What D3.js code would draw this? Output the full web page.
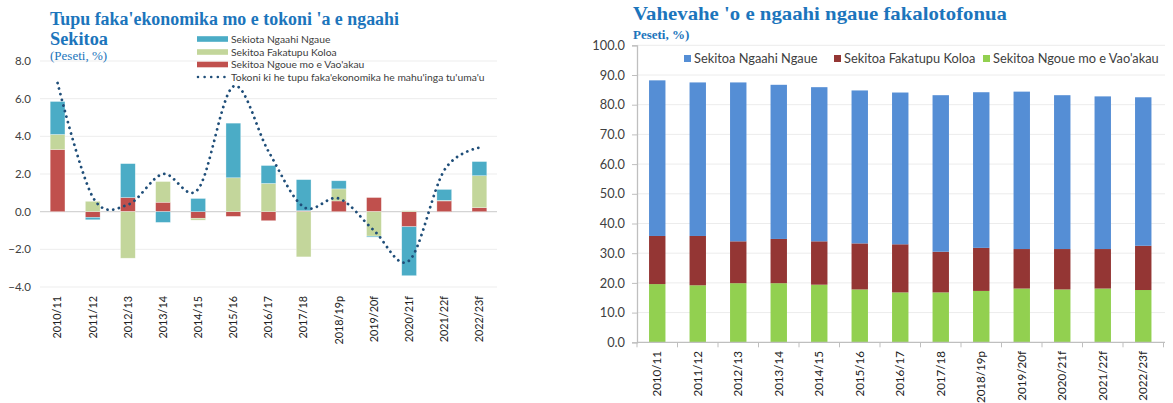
<!DOCTYPE html>
<html><head><meta charset="utf-8">
<script src="https://cdn.jsdelivr.net/npm/d3@7"></script>
<style>
html,body{margin:0;padding:0;background:#fff;}
svg{display:block;}
text{font-family:Lato,"Open Sans",sans-serif;}
text.serif{font-family:"Liberation Serif","Times New Roman",serif;}
</style></head>
<body>
<svg id="c" width="1173" height="403"></svg>
<script>
// ---------- LEFT CHART DATA ----------
const leftCategories = ["2010/11","2011/12","2012/13","2013/14","2014/15","2015/16","2016/17","2017/18","2018/19p","2019/20f","2020/21f","2021/22f","2022/23f"];
const leftNgoue    = [3.3, -0.3, 0.75, 0.5, -0.35, -0.25, -0.48, 0.05, 0.57, 0.75, -0.8, 0.57, 0.21];
const leftFakatupu = [0.8, 0.55, -2.47, 1.1, -0.1, 1.8, 1.5, -2.4, 0.64, -1.3, 0.05, 0.03, 1.7];
const leftNgaue    = [1.75, -0.13, 1.8, -0.57, 0.7, 2.9, 0.95, 1.65, 0.43, -0.05, -2.6, 0.58, 0.75];
const leftGrowth   = [6.83, 0.78, 0.37, 2.0, 1.2, 6.65, 3.2, 0.25, 0.7, -1.0, -2.6, 2.2, 3.4];
const leftTicks    = [-4, -2, 0, 2, 4, 6, 8];
const leftLegend   = ["Sekiota Ngaahi Ngaue","Sekitoa Fakatupu Koloa","Sekitoa Ngoue mo e Vao'akau","Tokoni ki he tupu faka'ekonomika he mahu'inga tu'uma'u"];

// ---------- RIGHT CHART DATA ----------
const rightCategories = ["2010/11","2011/12","2012/13","2013/14","2014/15","2015/16","2016/17","2017/18","2018/19p","2019/20f","2020/21f","2021/22f","2022/23f"];
const rightNgoue    = [19.6, 19.2, 19.9, 19.9, 19.4, 17.8, 16.8, 16.8, 17.3, 18.1, 17.8, 18.1, 17.6];
const rightFakatupu = [16.2, 16.6, 14.1, 14.9, 14.6, 15.5, 16.2, 13.7, 14.5, 13.3, 13.6, 13.3, 14.9];
const rightNgaue    = [52.4, 51.7, 53.5, 51.9, 51.9, 51.5, 51.1, 52.7, 52.4, 53.0, 51.8, 51.4, 50.0];
const rightTicks    = [0,10,20,30,40,50,60,70,80,90,100];
const rightLegend   = ["Sekitoa Ngaahi Ngaue","Sekitoa Fakatupu Koloa","Sekitoa Ngoue mo e Vao'akau"];

const svg = d3.select("#c");
const titleBlue = "#1c75bc";
const textGray = "#404040";

// ================= LEFT =================
(function(){
  const g = svg.append("g");
  const x = d3.scaleBand().domain(leftCategories).range([40,497]).paddingInner(0.58).paddingOuter(0.29);
  const y = d3.scaleLinear().domain([-4,8]).range([287,61]);
  const colors = {ngoue:"#c0504d", fak:"#c3d69b", ngaue:"#4bacc6"};

  g.append("g").selectAll("line").data(leftTicks).join("line")
    .attr("x1",40).attr("x2",497).attr("y1",d=>y(d)).attr("y2",d=>y(d))
    .attr("stroke",d=>d===0?"#d4d4d4":"#ededed").attr("stroke-width",d=>d===0?1.3:1);

  g.append("g").selectAll("text").data(leftTicks).join("text")
    .attr("x",31).attr("y",d=>y(d)).attr("dy","0.35em").attr("text-anchor","end")
    .attr("font-size",11.5).attr("fill",textGray).text(d=>d3.format(".1f")(d));

  const rows = leftCategories.map((c,i)=>({cat:c, ngoue:leftNgoue[i], fak:leftFakatupu[i], ngaue:leftNgaue[i]}));
  const stack = d3.stack().keys(["ngoue","fak","ngaue"]).offset(d3.stackOffsetDiverging)(rows);
  g.append("g").selectAll("g").data(stack).join("g").attr("fill",s=>colors[s.key])
    .selectAll("rect").data(s=>s).join("rect")
    .attr("x",d=>x(d.data.cat)).attr("width",x.bandwidth())
    .attr("y",d=>y(Math.max(d[0],d[1]))).attr("height",d=>Math.abs(y(d[0])-y(d[1])))
    .attr("stroke","#ffffff").attr("stroke-opacity",0.5).attr("stroke-width",0.6);

  const line = d3.line().x((d,i)=>x(leftCategories[i])+x.bandwidth()/2).y(d=>y(d)).curve(d3.curveCardinal.tension(0));
  g.append("path").datum(leftGrowth).attr("d",line).attr("fill","none")
    .attr("stroke","#1f4e79").attr("stroke-width",2.8).attr("stroke-linecap","round")
    .attr("stroke-dasharray","0.01 5.8");

  g.append("g").selectAll("text").data(leftCategories).join("text")
    .attr("transform",d=>`translate(${x(d)+x.bandwidth()/2},296) rotate(-90)`)
    .attr("text-anchor","end").attr("dy","0.35em").attr("font-size",10.8).attr("fill","#202020").text(d=>d);

  g.append("text").attr("class","serif").attr("x",50).attr("y",25).attr("font-weight","bold")
    .attr("font-size",18).attr("fill",titleBlue).attr("textLength",349).attr("lengthAdjust","spacingAndGlyphs")
    .text("Tupu faka'ekonomika mo e tokoni 'a e ngaahi");
  g.append("text").attr("class","serif").attr("x",50).attr("y",45).attr("font-weight","bold")
    .attr("font-size",18).attr("fill",titleBlue).attr("textLength",58).attr("lengthAdjust","spacingAndGlyphs").text("Sekitoa");
  g.append("text").attr("class","serif").attr("x",50).attr("y",60)
    .attr("font-size",13).attr("fill",titleBlue).text("(Peseti, %)");

  const ly = [39,52,64.5,77];
  const lg = g.append("g");
  [colors.ngaue, colors.fak, colors.ngoue].forEach((c,i)=>{
    lg.append("rect").attr("x",197).attr("y",ly[i]-2.8).attr("width",31).attr("height",5.6).attr("fill",c);
  });
  lg.append("line").attr("x1",198).attr("x2",228).attr("y1",ly[3]).attr("y2",ly[3])
    .attr("stroke","#1f4e79").attr("stroke-width",2.6).attr("stroke-linecap","round").attr("stroke-dasharray","0.01 6.6");
  lg.selectAll("text").data(leftLegend).join("text")
    .attr("x",231).attr("y",(d,i)=>ly[i]).attr("dy","0.35em").attr("font-size",10.3).attr("fill",textGray).text(d=>d);
})();

// ================= RIGHT =================
(function(){
  const g = svg.append("g");
  const x = d3.scaleBand().domain(rightCategories).range([637,1163.5]).paddingInner(0.595).paddingOuter(0.2975);
  const y = d3.scaleLinear().domain([0,100]).range([342.3,45.3]);
  const colors = {ngoue:"#92d050", fak:"#943634", ngaue:"#558ed5"};

  g.append("g").selectAll("line").data(rightTicks.filter(d=>d>0)).join("line")
    .attr("x1",637).attr("x2",1165).attr("y1",d=>y(d)).attr("y2",d=>y(d))
    .attr("stroke","#ececec").attr("stroke-width",1);

  const rows = rightCategories.map((c,i)=>({cat:c, ngoue:rightNgoue[i], fak:rightFakatupu[i], ngaue:rightNgaue[i]}));
  const stack = d3.stack().keys(["ngoue","fak","ngaue"])(rows);
  g.append("g").selectAll("g").data(stack).join("g").attr("fill",s=>colors[s.key])
    .selectAll("rect").data(s=>s).join("rect")
    .attr("x",d=>x(d.data.cat)).attr("width",x.bandwidth())
    .attr("y",d=>y(d[1])).attr("height",d=>y(d[0])-y(d[1]));

  const yAxis = d3.axisLeft(y).tickValues(rightTicks).tickSize(5).tickFormat(d3.format(".1f"));
  const ya = g.append("g").attr("transform","translate(637,0)").call(yAxis);
  ya.attr("font-family",null);
  ya.select(".domain").attr("stroke","#bfbfbf").attr("stroke-width",1.3);
  ya.selectAll(".tick line").attr("stroke","#bfbfbf");
  ya.selectAll(".tick text").attr("font-size",12.8).attr("fill",textGray).attr("x",-12);

  const xa = g.append("g").attr("transform","translate(0,342.3)");
  xa.append("line").attr("x1",637).attr("x2",1165).attr("stroke","#bfbfbf").attr("stroke-width",1.3);
  const step = x.step();
  const bounds = d3.range(rightCategories.length+1).map(i=>637+i*step);
  xa.selectAll(".tk").data(bounds).join("line").attr("class","tk")
    .attr("x1",d=>d).attr("x2",d=>d).attr("y1",0).attr("y2",5).attr("stroke","#bfbfbf");
  g.append("g").selectAll("text").data(rightCategories).join("text")
    .attr("transform",d=>`translate(${x(d)+x.bandwidth()/2},351) rotate(-90)`)
    .attr("text-anchor","end").attr("dy","0.35em").attr("font-size",11.6).attr("fill","#202020").text(d=>d);

  g.append("text").attr("class","serif").attr("x",633).attr("y",20).attr("font-weight","bold")
    .attr("font-size",19.5).attr("fill",titleBlue).attr("textLength",374).attr("lengthAdjust","spacingAndGlyphs")
    .text("Vahevahe 'o e ngaahi ngaue fakalotofonua");
  g.append("text").attr("class","serif").attr("x",633).attr("y",39).attr("font-weight","bold")
    .attr("font-size",13).attr("fill",titleBlue).text("Peseti, %)");

  const lx = [684, 834, 983];
  const lc = [colors.ngaue, colors.fak, colors.ngoue];
  const lg = g.append("g");
  lg.append("rect").attr("x",680).attr("y",50).attr("width",487).attr("height",17).attr("fill","#fff");
  rightLegend.forEach((t,i)=>{
    lg.append("rect").attr("x",lx[i]).attr("y",55).attr("width",7).attr("height",7).attr("fill",lc[i]);
    lg.append("text").attr("x",lx[i]+10).attr("y",58.5).attr("dy","0.35em").attr("font-size",12.8).attr("fill",textGray).text(t);
  });
})();
</script>
</body></html>
